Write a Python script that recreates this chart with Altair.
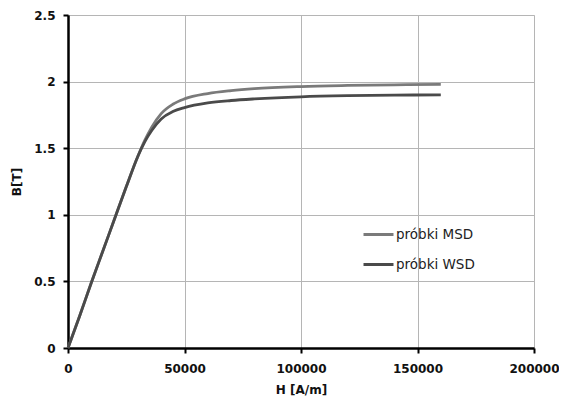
import altair as alt
import pandas as pd

H = [0, 5000, 10000, 15000, 20000, 25000, 30000, 33000, 36000, 40000, 45000,
     50000, 60000, 70000, 80000, 100000, 120000, 140000, 160000]
B_MSD = [0, 0.24, 0.49, 0.73, 0.97, 1.21, 1.44, 1.56, 1.66, 1.76, 1.83,
         1.87, 1.91, 1.932, 1.947, 1.963, 1.971, 1.976, 1.979]
B_WSD = [0, 0.24, 0.49, 0.73, 0.97, 1.21, 1.44, 1.55, 1.635, 1.72, 1.775,
         1.805, 1.84, 1.858, 1.87, 1.886, 1.894, 1.898, 1.901]
SERIES = ["próbki MSD", "próbki WSD"]
COLORS = ["#7a7a7a", "#4a4a4a"]
X_TICKS = [0, 50000, 100000, 150000, 200000]
Y_TICKS = [0, 0.5, 1, 1.5, 2, 2.5]

rows = []
for h, m, w in zip(H, B_MSD, B_WSD):
    rows.append({"H": h, "B": m, "s": SERIES[0]})
    rows.append({"H": h, "B": w, "s": SERIES[1]})
df = pd.DataFrame(rows)

FONT = "DejaVu Sans"
common = dict(labelFont=FONT, labelFontWeight="bold", labelFontSize=12,
              labelColor="#111", titleFont=FONT, titleFontWeight="bold",
              titleFontSize=12, titleColor="#111", domainColor="black",
              domainWidth=2.5, tickColor="black", tickWidth=2, tickSize=5,
              gridColor="#b5b5b5", gridWidth=1, labelFlush=False)

chart = alt.Chart(df).mark_line(strokeWidth=2.8, interpolate="monotone").encode(
    x=alt.X("H:Q", title="H [A/m]",
            scale=alt.Scale(domain=[0, 200000], nice=False, zero=True),
            axis=alt.Axis(values=X_TICKS, format="d", labelPadding=10,
                          titlePadding=10, **common)),
    y=alt.Y("B:Q", title="B[T]",
            scale=alt.Scale(domain=[0, 2.5], nice=False),
            axis=alt.Axis(values=Y_TICKS, labelExpr="datum.value + ''",
                          labelPadding=8, titlePadding=10, **common)),
    color=alt.Color("s:N", scale=alt.Scale(domain=SERIES, range=COLORS),
                    legend=alt.Legend(title=None, orient="none", legendX=294, legendY=203,
                                      symbolType="stroke", symbolSize=900,
                                      symbolStrokeWidth=3, labelFont=FONT,
                                      labelFontSize=13.5, labelColor="#222",
                                      labelOffset=1, rowPadding=7)),
).properties(
    width=466, height=333,
    autosize=alt.AutoSizeParams(type="none"),
    padding={"left": 60, "top": 7, "right": 25, "bottom": 52},
).configure_view(stroke=None).configure(background="white")

chart.save("out.html", embed_options={"renderer": "svg", "actions": False})
